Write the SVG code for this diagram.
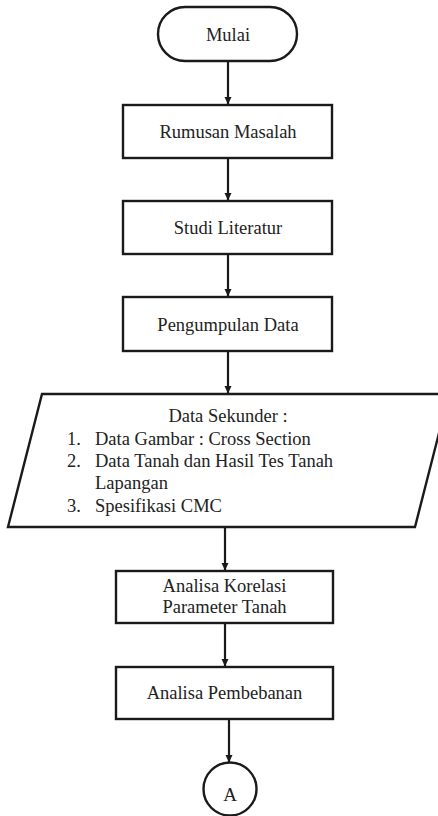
<svg xmlns="http://www.w3.org/2000/svg" width="438" height="816" viewBox="0 0 438 816">
<style>
.s{fill:#fff;stroke:#1a1a1a;stroke-width:2.4}
text{font-family:'Liberation Serif',serif;font-size:18.5px;fill:#222}
.c{text-anchor:middle}
.e{stroke:#1a1a1a;stroke-width:2.2;fill:none;marker-end:url(#ah)}
</style>
<defs>
<marker id="ah" markerWidth="8" markerHeight="8" refX="7" refY="4" orient="auto" markerUnits="userSpaceOnUse">
<path d="M0,0.5 L7.5,4 L0,7.5 Z" fill="#1a1a1a"/>
</marker>
</defs>
<g id="connectors">
<line class="e" x1="228" y1="61" x2="228" y2="104"/>
<line class="e" x1="228" y1="158" x2="228" y2="200"/>
<line class="e" x1="228" y1="254" x2="228" y2="296"/>
<line class="e" x1="228" y1="351" x2="228" y2="393"/>
<line class="e" x1="225" y1="527" x2="225" y2="570"/>
<line class="e" x1="225" y1="623" x2="225" y2="666"/>
<line class="e" x1="229" y1="719" x2="229" y2="762"/>
</g>
<g font-family="Liberation Serif, serif">
<g id="mulai">
<rect class="s" x="158" y="7" width="139" height="54" rx="27"/>
<text class="c" x="228" y="41">Mulai</text>
</g>
<g id="rumusan">
<rect class="s" x="123" y="105" width="209" height="53"/>
<text class="c" x="228" y="138">Rumusan Masalah</text>
</g>
<g id="studi">
<rect class="s" x="123" y="201" width="209" height="53"/>
<text class="c" x="228" y="234">Studi Literatur</text>
</g>
<g id="pengumpulan">
<rect class="s" x="123" y="297" width="209" height="54"/>
<text class="c" x="228" y="331">Pengumpulan Data</text>
</g>
<g id="sekunder">
<polygon class="s" points="42,394 449,394 415,527 8,527"/>
<text class="c" x="228" y="422">Data Sekunder :</text>
<text x="67" y="445">1.</text>
<text x="95" y="445">Data Gambar : Cross Section</text>
<text x="67" y="467">2.</text>
<text x="95" y="467">Data Tanah dan Hasil Tes Tanah</text>
<text x="95" y="489">Lapangan</text>
<text x="67" y="512">3.</text>
<text x="95" y="512">Spesifikasi CMC</text>
</g>
<g id="korelasi">
<rect class="s" x="116" y="571" width="217" height="52"/>
<text class="c" x="224.5" y="592">Analisa Korelasi</text>
<text class="c" x="224.5" y="613">Parameter Tanah</text>
</g>
<g id="pembebanan">
<rect class="s" x="116" y="667" width="217" height="52"/>
<text class="c" x="224.5" y="699">Analisa Pembebanan</text>
</g>
<g id="a">
<circle class="s" cx="230" cy="789" r="26.5"/>
<text class="c" x="230" y="801" style="font-size:19px">A</text>
</g>
</g>
</svg>
